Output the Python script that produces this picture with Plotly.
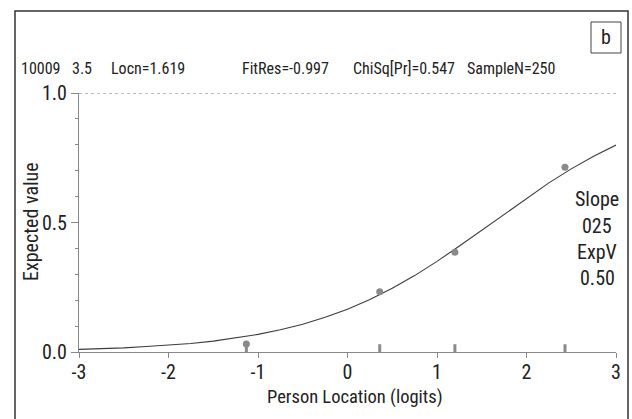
import plotly.graph_objects as go

# ---- data ----
curve_x = [-3.0, -2.75, -2.5, -2.25, -2.0, -1.75, -1.5, -1.25, -1.0, -0.75, -0.5, -0.25,
           0.0, 0.25, 0.5, 0.75, 1.0, 1.25, 1.5, 1.75, 2.0, 2.25, 2.5, 2.75, 3.0]
curve_y = [0.010, 0.012, 0.016, 0.021, 0.026, 0.033, 0.042, 0.054, 0.068, 0.086, 0.107, 0.134,
           0.165, 0.203, 0.246, 0.295, 0.350, 0.409, 0.470, 0.533, 0.594, 0.653, 0.707, 0.756, 0.799]
obs_x = [-1.13, 0.36, 1.20, 2.43]
obs_y = [0.031, 0.233, 0.385, 0.713]
x_ticks = [-3, -2, -1, 0, 1, 2, 3]
x_tick_labels = ["-3", "-2", "-1", "0", "1", "2", "3"]
y_ticks = [0.0, 0.5, 1.0]
y_tick_labels = ["0.0", "0.5", "1.0"]
header_items = ["10009", "3.5", "Locn=1.619", "FitRes=-0.997", "ChiSq[Pr]=0.547", "SampleN=250"]
side_items = ["Slope", "025", "ExpV", "0.50"]
panel_label = "b"
rug_height = 0.03

FONT = "Roboto Condensed"
W, H = 632, 419
L, R, T, B = 79, 16, 93, 67
PW, PH = W - L - R, H - T - B


def px(x):
    return (x - L) / PW


def py(y):
    return (H - B - y) / PH


fig = go.Figure()

# rug markers at observed class locations
rx, ry = [], []
for x in obs_x:
    rx += [x, x, None]
    ry += [0, rug_height, None]
fig.add_trace(go.Scatter(x=rx, y=ry, mode="lines", line=dict(color="#8a8a8a", width=3),
                         hoverinfo="skip", showlegend=False, cliponaxis=False))

fig.add_trace(go.Scatter(x=curve_x, y=curve_y, mode="lines",
                         line=dict(color="#3c3c3c", width=1.1), showlegend=False,
                         cliponaxis=False))
fig.add_trace(go.Scatter(x=obs_x, y=obs_y, mode="markers",
                         marker=dict(color="#8a8a8a", size=7), showlegend=False,
                         cliponaxis=False))

# dotted reference line at 1.0
fig.add_shape(type="line", xref="x", yref="y", x0=-3, x1=3, y0=1, y1=1,
              line=dict(color="#777777", width=1, dash="dot"))

# outer frame
fig.add_shape(type="rect", xref="paper", yref="paper",
              x0=px(15), x1=px(628), y0=py(430), y1=py(11),
              line=dict(color="#333333", width=1.5))
# panel label box
fig.add_shape(type="rect", xref="paper", yref="paper",
              x0=px(591), x1=px(621), y0=py(53), y1=py(22),
              line=dict(color="#444444", width=1))

ann = []
ann.append(dict(text=panel_label, x=px(606), y=py(37), xref="paper", yref="paper",
                showarrow=False, xanchor="center", yanchor="middle",
                font=dict(family=FONT, size=20, color="#222")))

header_cx = [41, 82, 148, 285, 404, 511]
for t, hx in zip(header_items, header_cx):
    ann.append(dict(text=t, x=px(hx), y=py(69), xref="paper", yref="paper",
                    showarrow=False, xanchor="center", yanchor="middle",
                    font=dict(family=FONT, size=16, color="#222")))

side_y = [199, 226, 252, 278]
for t, sy in zip(side_items, side_y):
    ann.append(dict(text=t, x=px(597), y=py(sy), xref="paper", yref="paper",
                    showarrow=False, xanchor="center", yanchor="middle",
                    font=dict(family=FONT, size=20, color="#222")))

ann.append(dict(text="Person Location (logits)", x=px(355), y=py(397), xref="paper",
                yref="paper", showarrow=False, xanchor="center", yanchor="middle",
                font=dict(family=FONT, size=18.5, color="#222")))
ann.append(dict(text="Expected value", x=px(31), y=py(222), xref="paper",
                yref="paper", showarrow=False, xanchor="center", yanchor="middle",
                textangle=-90, font=dict(family=FONT, size=20, color="#222")))

fig.update_layout(
    width=W, height=H,
    margin=dict(l=L, r=R, t=T, b=B),
    paper_bgcolor="white", plot_bgcolor="white",
    font=dict(family=FONT, color="#222"),
    annotations=ann,
    xaxis=dict(range=[-3, 3], tickvals=x_ticks, ticktext=x_tick_labels, ticks="outside",
               ticklen=5, tickcolor="#888", showline=True, linecolor="#888", linewidth=1,
               showgrid=False, zeroline=False, ticklabelstandoff=-3,
               tickfont=dict(size=20, family=FONT)),
    yaxis=dict(range=[0, 1], tickvals=y_ticks, ticktext=y_tick_labels, ticks="outside",
               ticklen=7, tickcolor="#888", showline=True, linecolor="#888", linewidth=1,
               showgrid=False, zeroline=False, tickfont=dict(size=20, family=FONT),
               minor=dict(dtick=0.1, ticks="outside", ticklen=3, tickcolor="#888")),
)

fig.write_html("out.html", config={"displayModeBar": False},
               post_script="document.body.style.margin='0';")
